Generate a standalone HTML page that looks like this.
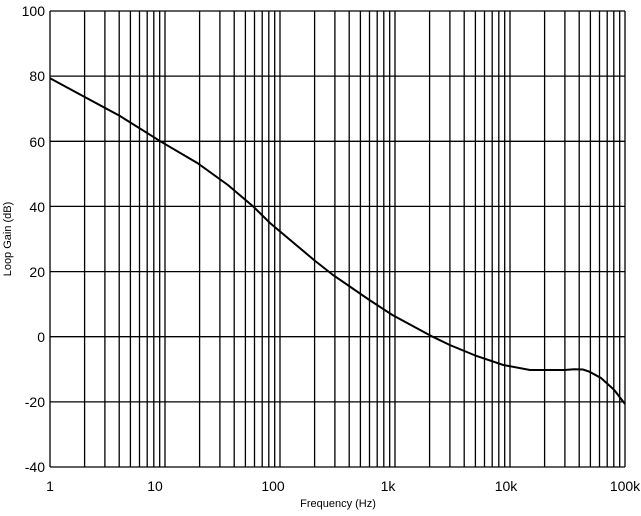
<!DOCTYPE html>
<html><head><style>
body{margin:0;background:#fff;}
svg text{font-family:"Liberation Sans",Arial,sans-serif;fill:#000;}
</style></head><body>
<svg width="641" height="511" xmlns="http://www.w3.org/2000/svg">
<path stroke="#000" stroke-width="1.3" fill="none" d="
M50,11V467
M84.6,11V467 M104.9,11V467 M119.2,11V467 M130.4,11V467 M139.5,11V467 M147.2,11V467 M153.8,11V467 M159.7,11V467 M165,11V467
M199.6,11V467 M219.9,11V467 M234.2,11V467 M245.4,11V467 M254.5,11V467 M262.2,11V467 M268.8,11V467 M274.7,11V467 M280,11V467
M314.6,11V467 M334.9,11V467 M349.2,11V467 M360.4,11V467 M369.5,11V467 M377.2,11V467 M383.8,11V467 M389.7,11V467 M395,11V467
M429.6,11V467 M449.9,11V467 M464.2,11V467 M475.4,11V467 M484.5,11V467 M492.2,11V467 M498.8,11V467 M504.7,11V467 M510,11V467
M544.6,11V467 M564.9,11V467 M579.2,11V467 M590.4,11V467 M599.5,11V467 M607.2,11V467 M613.8,11V467 M619.7,11V467 M625,11V467
M50,11H625 M50,76.1H625 M50,141.3H625 M50,206.4H625 M50,271.6H625 M50,336.7H625 M50,401.9H625 M50,467H625"/>
<polyline fill="none" stroke="#000" stroke-width="2" points="50,78.3 85.2,97.3 120,116 161,141.7 197.3,163 227.9,185 253.5,206.7 270,223 314,260 333,275 369.4,300 392.4,315 432.6,336.7 449.8,345 476.5,356 503.3,365 530,370 564.5,370 574,369.3 583,369.5 589.4,371.7 601,378 614.3,390 625,404"/>
<g font-size="14" text-anchor="end">
<text x="45" y="16">100</text>
<text x="45" y="81">80</text>
<text x="45" y="147">60</text>
<text x="45" y="212">40</text>
<text x="45" y="277">20</text>
<text x="45" y="342">0</text>
<text x="45" y="407">-20</text>
<text x="45" y="472">-40</text>
</g>
<g font-size="14" text-anchor="middle">
<text x="50" y="491">1</text>
<text x="155" y="491">10</text>
<text x="273" y="491">100</text>
<text x="388" y="491">1k</text>
<text x="506" y="491">10k</text>
<text x="625" y="491">100k</text>
</g>
<text x="338" y="507" font-size="11" text-anchor="middle">Frequency (Hz)</text>
<text transform="translate(11,239) rotate(-90)" font-size="11" text-anchor="middle">Loop Gain (dB)</text>
</svg>
</body></html>
